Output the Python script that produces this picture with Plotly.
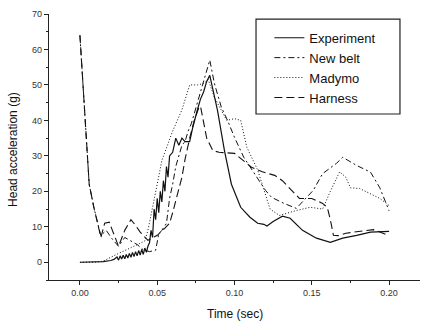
import plotly.graph_objects as go

# ---- data ----
exp_t = [0, 0.005, 0.01, 0.015, 0.02, 0.022, 0.024, 0.025, 0.026, 0.027, 0.028, 0.029, 0.03, 0.031,
         0.032, 0.033, 0.034, 0.035, 0.036, 0.037, 0.038, 0.039, 0.040, 0.041, 0.042, 0.043, 0.044,
         0.045, 0.046, 0.047, 0.048, 0.049, 0.050, 0.051, 0.052, 0.053, 0.054, 0.055, 0.056, 0.057,
         0.058, 0.06, 0.062, 0.064, 0.066, 0.068, 0.071, 0.073, 0.076, 0.078, 0.08, 0.082, 0.084,
         0.086, 0.089, 0.0935, 0.098, 0.104, 0.11, 0.115, 0.119, 0.121, 0.125, 0.131, 0.136, 0.144,
         0.153, 0.162, 0.17, 0.179, 0.188, 0.2]
exp_v = [0, 0, 0.1, 0.2, 0.5, 0.8, 1.5, 0.6, 1.8, 0.9, 2.0, 1.0, 2.2, 1.2,
         2.5, 1.4, 2.8, 1.6, 3.0, 1.8, 3.3, 2.0, 3.6, 2.2, 4.0, 2.8, 4.5,
         5.5, 9, 7, 15, 12, 18, 14, 20, 17, 23, 20, 27, 24,
         30, 31, 35, 33, 35, 34, 34, 38, 43, 46, 48, 51, 52.7,
         49, 42.8, 31.5, 22, 15.5, 12.7, 11, 10.7, 10.2, 11.5, 13, 12.4, 9,
         6.8, 5.6, 6.8, 7.6, 8.5, 8.7]

nb_t = [0, 0.001, 0.002, 0.004, 0.006, 0.009, 0.012, 0.0135, 0.017, 0.021, 0.025, 0.029, 0.033,
        0.037, 0.041, 0.045, 0.049, 0.051, 0.053, 0.056, 0.058, 0.06, 0.062, 0.064, 0.066, 0.068,
        0.07, 0.072, 0.074, 0.077, 0.08, 0.082, 0.084, 0.087, 0.0915, 0.0955, 0.1, 0.106, 0.113,
        0.12, 0.124, 0.132, 0.14, 0.151, 0.157, 0.166, 0.17, 0.179, 0.188, 0.194, 0.2]
nb_v = [64, 57, 50, 36, 22, 15.5, 10, 7.5, 9, 6.5, 4.5, 7, 6,
        5, 3.5, 3, 3.4, 8, 9, 11, 18, 22, 27, 30, 33, 34,
        37, 39, 42, 46, 51, 54, 57, 50.4, 43.7, 40, 35.2, 29.6, 25,
        20.3, 18.3, 16.6, 15.2, 20.3, 25, 27.9, 29.6, 27.3, 25.4, 21, 14.5]

md_t = [0, 0.01, 0.015, 0.02, 0.025, 0.03, 0.035, 0.04, 0.042, 0.044, 0.047, 0.05, 0.053, 0.056,
        0.06, 0.066, 0.071, 0.076, 0.08, 0.083, 0.087, 0.095, 0.1, 0.104, 0.108, 0.115, 0.12,
        0.123, 0.129, 0.14, 0.149, 0.157, 0.162, 0.168, 0.172, 0.175, 0.181, 0.188, 0.194, 0.2]
md_v = [0, 0, 0.3, 1.5, 2.5, 3.5, 4.5, 5.5, 6, 9, 16, 22, 28.7, 32.4,
        37, 43, 50, 50, 50.4, 51.5, 46.5, 40, 40.5, 40, 32.4, 26, 19.4,
        15, 13.2, 14.6, 15.5, 15, 20, 25.5, 24, 21, 20.8, 19.4, 18, 16]

hn_t = [0, 0.001, 0.002, 0.004, 0.006, 0.009, 0.012, 0.0136, 0.016, 0.019, 0.021, 0.025, 0.029,
        0.033, 0.036, 0.039, 0.044, 0.05, 0.055, 0.058, 0.06, 0.063, 0.066, 0.068, 0.071, 0.074,
        0.077, 0.078, 0.080, 0.082, 0.086, 0.09, 0.1, 0.106, 0.111, 0.118, 0.126, 0.131, 0.136,
        0.142, 0.15, 0.157, 0.16, 0.162, 0.164, 0.167, 0.172, 0.18, 0.19, 0.2]
hn_v = [64, 57, 50, 36, 22, 15.5, 10, 7, 11, 11.3, 9, 4.5, 9,
        12, 10.4, 8.5, 6.2, 7.6, 9.6, 11, 14, 19, 24, 29, 35, 40,
        43.7, 44, 40, 35, 31.5, 31, 30.7, 28.7, 26.8, 25.5, 24.5, 23, 20.8,
        18, 18, 16.6, 15.5, 12, 7.6, 7.5, 8.2, 8.6, 9.2, 7.5]

series = [
    ("Experiment", exp_t, exp_v, "solid", 1.2),
    ("New belt", nb_t, nb_v, "6px,3px,2px,3px", 1.0),
    ("Madymo", md_t, md_v, "1px,2px", 1.0),
    ("Harness", hn_t, hn_v, "8px,4px", 1.1),
]

x_ticks = [0.00, 0.05, 0.10, 0.15, 0.20]
x_ticklabels = ["0.00", "0.05", "0.10", "0.15", "0.20"]
y_ticks = [0, 10, 20, 30, 40, 50, 60, 70]
x_title = "Time (sec)"
y_title = "Head acceleration (g)"

FONT = "Liberation Sans, Arial, sans-serif"

fig = go.Figure()
for name, t, v, dash, w in series:
    fig.add_trace(go.Scatter(x=t, y=v, mode="lines", name=name,
                             line=dict(color="#111111", width=w, dash=dash)))

axis_common = dict(showline=True, linecolor="#222222", linewidth=1.2, showgrid=False,
                   zeroline=False, ticks="outside", ticklen=4, tickwidth=1.2, tickcolor="#222222",
                   tickfont=dict(family=FONT, size=9, color="#333333"), automargin=False,
                   minor=dict(ticks="outside", ticklen=2, tickwidth=1, tickcolor="#222222"))

fig.update_xaxes(range=[-0.02, 0.22], tickvals=x_ticks, ticktext=x_ticklabels,
                 minor_dtick=0.025, minor_tick0=0, **axis_common)
fig.update_yaxes(range=[-5, 70], tickvals=y_ticks, minor_dtick=5, minor_tick0=0, **axis_common)

fig.add_annotation(text=x_title, xref="paper", yref="paper", x=0.501, y=-0.127,
                   xanchor="center", yanchor="middle", showarrow=False,
                   font=dict(family=FONT, size=12, color="#111111"))
fig.add_annotation(text=y_title, xref="paper", yref="paper", x=-0.099, y=0.49,
                   xanchor="center", yanchor="middle", showarrow=False, textangle=-90,
                   font=dict(family=FONT, size=12, color="#111111"))

fig.add_shape(type="rect", xref="paper", yref="paper", x0=0.558, x1=0.946, y0=0.624, y1=0.981,
              line=dict(color="#222222", width=1.2), fillcolor="rgba(0,0,0,0)")

fig.update_layout(
    width=426, height=323,
    margin=dict(l=49, r=6, t=14, b=43),
    paper_bgcolor="white", plot_bgcolor="white",
    showlegend=True,
    legend=dict(x=0.594, y=0.967, xanchor="left", yanchor="top",
                bgcolor="rgba(0,0,0,0)", borderwidth=0,
                font=dict(family=FONT, size=13, color="#111111"),
                tracegroupgap=0),
)

fig.write_html("out.html")
